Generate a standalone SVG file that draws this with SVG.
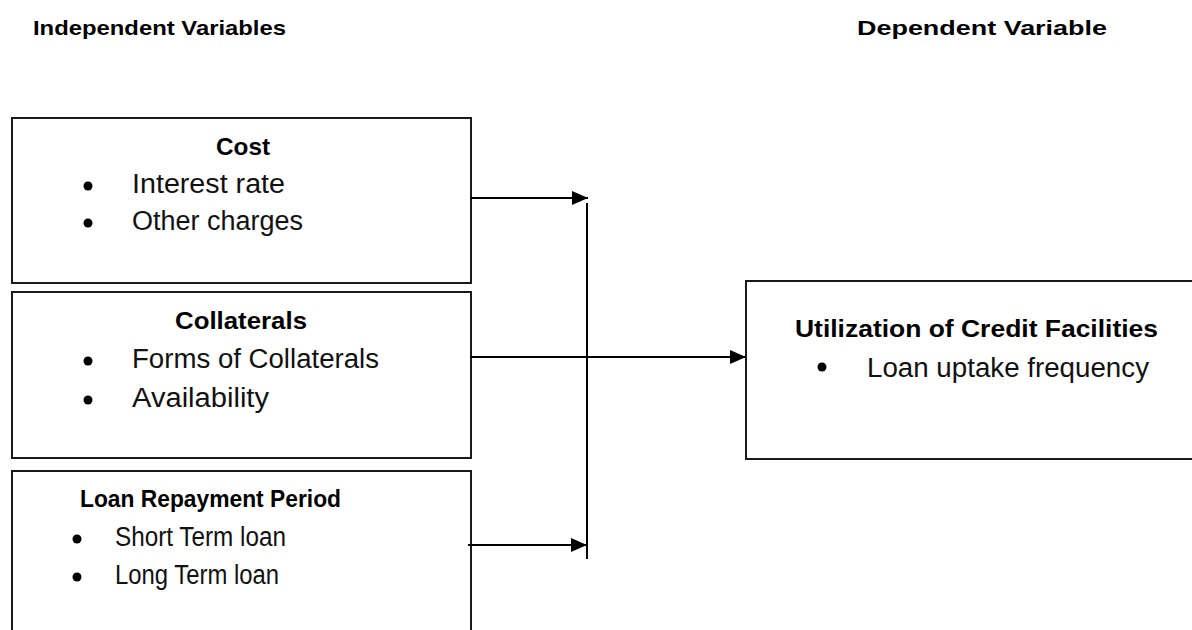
<svg xmlns="http://www.w3.org/2000/svg" width="1192" height="630" viewBox="0 0 1192 630">
<style>
.box{fill:#fff;stroke:#1a1a1a;stroke-width:2}
.hdr{font-family:"Liberation Sans",Arial,sans-serif;font-weight:bold;font-size:21px;fill:#000}
.ttl{font-family:"Liberation Sans",Arial,sans-serif;font-weight:bold;font-size:24px;fill:#000}
.itm{font-family:"Liberation Sans",Arial,sans-serif;font-size:27px;fill:#111}
.bul{fill:#000}
.con{stroke:#000;stroke-width:2;fill:none}
</style>
<defs>
<marker id="ah" markerUnits="userSpaceOnUse" markerWidth="16" markerHeight="14" refX="16" refY="7" orient="auto">
<polygon points="0,0 16,7 0,14" fill="#000"/>
</marker>
</defs>
<rect width="1192" height="630" fill="#fff"/>
<text class="hdr" x="33" y="35" textLength="253" lengthAdjust="spacingAndGlyphs">Independent Variables</text>
<text class="hdr" x="857" y="35" textLength="250" lengthAdjust="spacingAndGlyphs">Dependent Variable</text>
<g id="cost">
<rect class="box" x="12" y="118" width="459" height="165"/>
<text class="ttl" x="216" y="155" textLength="54" lengthAdjust="spacingAndGlyphs">Cost</text>
<circle class="bul" cx="88" cy="186" r="4.5"/>
<text class="itm" x="132" y="193" textLength="153" lengthAdjust="spacingAndGlyphs">Interest rate</text>
<circle class="bul" cx="88" cy="223" r="4.5"/>
<text class="itm" x="132" y="230" textLength="171" lengthAdjust="spacingAndGlyphs">Other charges</text>
</g>
<g id="collaterals">
<rect class="box" x="12" y="292" width="459" height="166"/>
<text class="ttl" x="175" y="329" textLength="132" lengthAdjust="spacingAndGlyphs">Collaterals</text>
<circle class="bul" cx="88" cy="361" r="4.5"/>
<text class="itm" x="132" y="368" textLength="247" lengthAdjust="spacingAndGlyphs">Forms of Collaterals</text>
<circle class="bul" cx="88" cy="400" r="4.5"/>
<text class="itm" x="132" y="407" textLength="137" lengthAdjust="spacingAndGlyphs">Availability</text>
</g>
<g id="repayment">
<rect class="box" x="12" y="471" width="459" height="180"/>
<text class="ttl" x="80" y="507" textLength="261" lengthAdjust="spacingAndGlyphs">Loan Repayment Period</text>
<circle class="bul" cx="77" cy="539" r="4.5"/>
<text class="itm" x="115" y="546" textLength="171" lengthAdjust="spacingAndGlyphs">Short Term loan</text>
<circle class="bul" cx="77" cy="577" r="4.5"/>
<text class="itm" x="115" y="584" textLength="164" lengthAdjust="spacingAndGlyphs">Long Term loan</text>
</g>
<g id="utilization">
<rect class="box" x="746" y="281" width="460" height="178"/>
<text class="ttl" x="795" y="337" textLength="363" lengthAdjust="spacingAndGlyphs">Utilization of Credit Facilities</text>
<circle class="bul" cx="822" cy="367" r="4.5"/>
<text class="itm" x="867" y="377" textLength="282" lengthAdjust="spacingAndGlyphs">Loan uptake frequency</text>
</g>
<g id="connectors">
<line class="con" x1="471" y1="198" x2="588" y2="198" marker-end="url(#ah)"/>
<line class="con" x1="587" y1="203" x2="587" y2="559"/>
<line class="con" x1="471" y1="357" x2="746" y2="357" marker-end="url(#ah)"/>
<line class="con" x1="468" y1="545" x2="587" y2="545" marker-end="url(#ah)"/>
</g>
</svg>
